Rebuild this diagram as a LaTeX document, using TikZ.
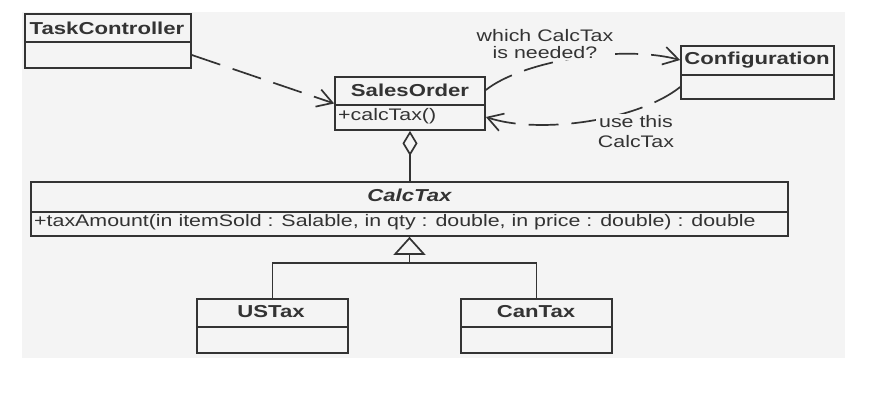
\documentclass[tikz,border=0pt]{standalone}
\usepackage{fontspec}
\setmainfont{Liberation Sans}[FakeStretch=1.28]
\usetikzlibrary{arrows.meta}
\definecolor{ink}{HTML}{333333}
\definecolor{paper}{HTML}{F4F4F4}
\begin{document}
\begin{tikzpicture}[x=1pt,y=-1pt,
  classbox/.style={draw=ink, line width=1.7pt, inner sep=0pt},
  divider/.style={draw=ink, line width=1.7pt},
  cname/.style={font=\fontsize{17.3}{20}\selectfont\bfseries, anchor=base, text=ink, inner sep=0pt},
  opname/.style={font=\fontsize{16.7}{20}\selectfont, anchor=base west, text=ink, inner sep=0pt},
  note/.style={font=\fontsize{16.7}{17}\selectfont, align=center, text=ink, fill=paper, inner sep=1.5pt},
  dep/.style={draw=ink, line width=1.7pt, dash pattern=on 30pt off 13pt,
    -{Straight Barb[length=15pt,width=18pt,line width=1.7pt]}},
  solidline/.style={draw=ink, line width=1.7pt}
]
\useasboundingbox (0,0) rectangle (887,403);
\fill[paper] (22,12) rectangle (845,358);

% TaskController
\node[classbox, minimum width=166pt, minimum height=54pt] (TC) at (108,41) {};
\draw[divider] (TC.west |- 0,42) -- (TC.east |- 0,42);
\node[cname] (TCn) at (107,34.3) {TaskController};

% SalesOrder
\node[classbox, minimum width=150pt, minimum height=53pt] (SO) at (410,103.5) {};
\draw[divider] (SO.west |- 0,105) -- (SO.east |- 0,105);
\node[cname] (SOn) at (410,96.5) {SalesOrder};
\node[opname] (SOo) at (338,121) {+calcTax()};

% Configuration
\node[classbox, minimum width=153pt, minimum height=53pt] (CF) at (757.5,72.5) {};
\draw[divider] (CF.west |- 0,75) -- (CF.east |- 0,75);
\node[cname] (CFn) at (757,65) {Configuration};

% CalcTax
\node[classbox, minimum width=757pt, minimum height=54pt] (CT) at (409.5,209) {};
\draw[divider] (CT.west |- 0,212) -- (CT.east |- 0,212);
\node[cname, font=\fontsize{17.3}{20}\selectfont\bfseries\itshape] (CTn) at (409.5,202) {CalcTax};
\node[opname] (CTo) at (34,226.5) {+taxAmount(in itemSold : Salable, in qty : double, in price : double) : double};

% USTax
\node[classbox, minimum width=151pt, minimum height=54pt] (US) at (272.5,326) {};
\draw[divider] (US.west |- 0,327) -- (US.east |- 0,327);
\node[cname] (USn) at (271,318) {USTax};

% CanTax
\node[classbox, minimum width=151pt, minimum height=54pt] (CA) at (536.5,326) {};
\draw[divider] (CA.west |- 0,327) -- (CA.east |- 0,327);
\node[cname] (CAn) at (536,318) {CanTax};

% dependency TaskController -> SalesOrder
\draw[dep] ([yshift=-14pt]TC.east) -- (SO.west);

% aggregation
\draw[solidline, -{Diamond[open, length=25pt, width=15pt, line width=1.7pt]}] (CT.north -| SO.south) -- (SO.south);

% generalization
\coordinate (J) at (409.5,263);
\draw[solidline] (US.north) |- (J) -| (CA.north);
\draw[solidline, -{Triangle[open, length=18pt, width=32pt, line width=1.7pt]}] (J) -- (CT.south);

% request / reply curves
\draw[dep] ([yshift=13.5pt]SO.east) .. controls +(35,-28) and +(-61,-16) .. ([yshift=12.5pt]CF.west);
\draw[dep] ([yshift=-14.5pt]CF.west) .. controls +(-41,33) and +(55,18) .. ([yshift=-13.5pt]SO.east);

\node[note] (Q) at (545,44) {which CalcTax\\is needed?};
\node[note, font=\fontsize{16.7}{20}\selectfont] (A) at (636,132) {use this\\CalcTax};
\end{tikzpicture}
\end{document}
